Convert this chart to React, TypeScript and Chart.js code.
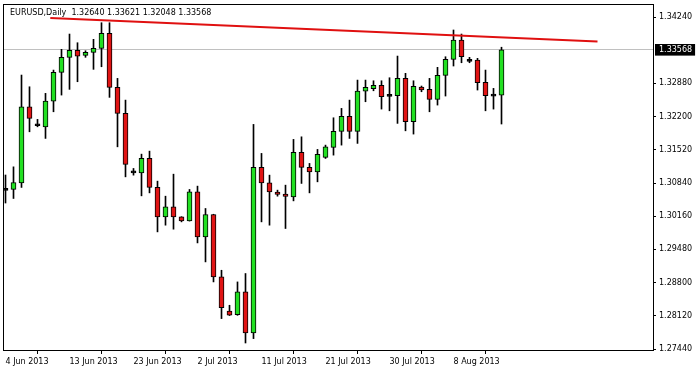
import React, { useEffect, useRef } from 'react';
import { Chart, registerables } from 'chart.js';

Chart.register(...registerables);

const TITLE = 'EURUSD,Daily  1.32640 1.33621 1.32048 1.33568';

const OPEN = [
  1.30700, 1.30708, 1.30843, 1.32401, 1.32012, 1.31991, 1.32518, 1.33106, 1.33414, 1.33557,
  1.33455, 1.33516, 1.33598, 1.33906, 1.32799, 1.32266, 1.31048, 1.31048, 1.31343, 1.30749,
  1.30146, 1.30351, 1.30146, 1.30064, 1.30659, 1.29736, 1.30195, 1.28916, 1.28219, 1.28145,
  1.28609, 1.27768, 1.31159, 1.30843, 1.30652, 1.30612, 1.30556, 1.31466, 1.31159, 1.31069,
  1.31364, 1.31569, 1.31897, 1.32204, 1.31897, 1.32723, 1.32770, 1.32840, 1.32621, 1.32627,
  1.32983, 1.32094, 1.32805, 1.32758, 1.32553, 1.33045, 1.33373, 1.33769, 1.33338, 1.33359,
  1.32901, 1.32627, 1.32640,
];
const HIGH = [
  1.31004, 1.31171, 1.33051, 1.32811, 1.32143, 1.32676, 1.33153, 1.33578, 1.33891, 1.33713,
  1.33549, 1.33783, 1.34123, 1.34123, 1.32983, 1.32538, 1.31138, 1.31431, 1.31493, 1.30878,
  1.30570, 1.31021, 1.30150, 1.30708, 1.30776, 1.30318, 1.30200, 1.29053, 1.28336, 1.28814,
  1.28986, 1.32040, 1.31446, 1.31001, 1.30694, 1.30796, 1.31733, 1.31786, 1.31241, 1.31528,
  1.31616, 1.32176, 1.32368, 1.32538, 1.32948, 1.32948, 1.32934, 1.32934, 1.32996, 1.33440,
  1.33086, 1.32934, 1.32826, 1.32983, 1.33209, 1.33426, 1.33974, 1.33891, 1.33414, 1.33393,
  1.33153, 1.32778, 1.33621,
];
const LOW = [
  1.30430, 1.30523, 1.30749, 1.31889, 1.31991, 1.31753, 1.32299, 1.32641, 1.32758, 1.32914,
  1.33414, 1.33168, 1.33221, 1.32594, 1.31581, 1.30966, 1.31001, 1.30577, 1.30638, 1.29839,
  1.29976, 1.29894, 1.30044, 1.30060, 1.29613, 1.29224, 1.28814, 1.28063, 1.28125, 1.28130,
  1.27563, 1.27653, 1.30044, 1.29976, 1.30570, 1.29908, 1.30474, 1.30831, 1.30638, 1.30864,
  1.31343, 1.31411, 1.31616, 1.31753, 1.31651, 1.32504, 1.32729, 1.32354, 1.32319, 1.32061,
  1.31909, 1.31842, 1.32709, 1.32299, 1.32436, 1.32621, 1.33236, 1.33303, 1.33303, 1.32744,
  1.32319, 1.32354, 1.32048,
];
const CLOSE = [
  1.30690, 1.30851, 1.32401, 1.32163, 1.32016, 1.32518, 1.33106, 1.33414, 1.33557, 1.33440,
  1.33516, 1.33598, 1.33906, 1.32799, 1.32266, 1.31220, 1.31056, 1.31343, 1.30749, 1.30146,
  1.30351, 1.30146, 1.30064, 1.30659, 1.29736, 1.30195, 1.28916, 1.28289, 1.28131, 1.28609,
  1.27768, 1.31159, 1.30843, 1.30659, 1.30605, 1.30565, 1.31466, 1.31159, 1.31069, 1.31425,
  1.31581, 1.31897, 1.32204, 1.31897, 1.32723, 1.32799, 1.32840, 1.32606, 1.32615, 1.32983,
  1.32094, 1.32819, 1.32744, 1.32553, 1.33045, 1.33373, 1.33769, 1.33426, 1.33332, 1.32893,
  1.32627, 1.32620, 1.33568,
];

const X_TICK_BARS = [0, 8, 16, 24, 32, 40, 48, 56];
const X_TICK_LABELS = [
  '4 Jun 2013', '13 Jun 2013', '23 Jun 2013', '2 Jul 2013',
  '11 Jul 2013', '21 Jul 2013', '30 Jul 2013', '8 Aug 2013',
];
const Y_TICKS = [1.3424, 1.3288, 1.322, 1.3152, 1.3084, 1.3016, 1.2948, 1.288, 1.2812, 1.2744];
const CURRENT_PRICE = 1.33568;

const TREND_X = [5.6, 74.0];
const TREND_Y = [1.34220, 1.33740];

const X_MIN = -0.3125;
const X_MAX = 80.9375;
const Y_MIN = 1.273991;
const Y_MAX = 1.345063;

const UP = '#22e022';
const DOWN = '#e01414';
const FONT = { family: '"DejaVu Sans", sans-serif', size: 8 };

const framePlugin = {
  id: 'mtFrame',
  beforeDatasetsDraw(chart: any) {
    const { ctx, chartArea } = chart;
    ctx.save();
    ctx.fillStyle = '#000';
    ctx.font = '8px "DejaVu Sans", sans-serif';
    ctx.textBaseline = 'middle';
    ctx.textAlign = 'left';
    ctx.fillText(TITLE, chartArea.left + 7, chartArea.top + 9);
    ctx.restore();
  },
  afterDraw(chart: any) {
    const { ctx, chartArea } = chart;
    ctx.save();
    ctx.strokeStyle = '#000';
    ctx.lineWidth = 1;
    const l = Math.round(chartArea.left) + 0.5;
    const t = Math.round(chartArea.top) + 0.5;
    const r = Math.round(chartArea.right) + 0.5;
    const b = Math.round(chartArea.bottom) - 0.5;
    ctx.strokeRect(l, t, r - l, b - t);
    ctx.restore();
  },
};

export default function App() {
  const ref = useRef<HTMLCanvasElement | null>(null);

  useEffect(() => {
    if (!ref.current) return;
    const idx = OPEN.map((_, i) => i);
    const isDoji = (i: number) => Math.abs(OPEN[i] - CLOSE[i]) < 0.00012;
    const bodyColors = idx.map((i) => (isDoji(i) ? '#000' : CLOSE[i] >= OPEN[i] ? UP : DOWN));
    const isCur = (ctx: any) => ctx.tick && Math.abs(ctx.tick.value - CURRENT_PRICE) < 1e-9;

    const chart = new Chart(ref.current, {
      type: 'bar',
      data: {
        datasets: [
          {
            type: 'line',
            label: 'trend',
            data: TREND_X.map((x, k) => ({ x, y: TREND_Y[k] })),
            borderColor: '#e01010',
            borderWidth: 2,
            pointRadius: 0,
            tension: 0,
            order: 0,
          } as any,
          {
            type: 'bar',
            label: 'body',
            data: idx.map((i) => ({ x: i, y: [OPEN[i], CLOSE[i]] })),
            backgroundColor: bodyColors,
            borderColor: '#000',
            borderWidth: 1,
            borderSkipped: false,
            barThickness: 5,
            minBarLength: 2,
            grouped: false,
            order: 1,
          } as any,
          {
            type: 'bar',
            label: 'wick',
            data: idx.map((i) => ({ x: i, y: [LOW[i], HIGH[i]] })),
            backgroundColor: '#000',
            borderWidth: 0,
            barThickness: 1,
            grouped: false,
            order: 2,
          } as any,
        ],
      },
      options: {
        responsive: false,
        animation: false,
        devicePixelRatio: 1,
        layout: { padding: { left: 3, top: 4, right: 0, bottom: 0 } },
        plugins: {
          legend: { display: false },
          tooltip: { enabled: false },
          title: { display: false },
        },
        scales: {
          x: {
            type: 'linear',
            min: X_MIN,
            max: X_MAX,
            offset: false,
            afterFit: (s: any) => {
              s.height = 20;
              s.paddingLeft = 0;
              s.paddingRight = 0;
            },
            afterBuildTicks: (s: any) => { s.ticks = X_TICK_BARS.map((v) => ({ value: v })); },
            grid: { drawOnChartArea: false, tickLength: 3, tickColor: '#000' },
            border: { display: false },
            ticks: {
              autoSkip: false,
              maxRotation: 0,
              minRotation: 0,
              align: 'start',
              padding: 3,
              color: '#000',
              font: FONT,
              callback: (_v: any, i: number) => X_TICK_LABELS[i],
            },
          } as any,
          y: {
            type: 'linear',
            position: 'right',
            min: Y_MIN,
            max: Y_MAX,
            afterFit: (s: any) => {
              s.width = 45;
              s.paddingTop = 0;
              s.paddingBottom = 0;
            },
            afterBuildTicks: (s: any) => {
              s.ticks = [Y_TICKS[0], CURRENT_PRICE, ...Y_TICKS.slice(1)].map((v) => ({ value: v }));
            },
            grid: {
              drawOnChartArea: true,
              color: (ctx: any) => (isCur(ctx) ? '#c0c0c0' : 'rgba(0,0,0,0)'),
              tickColor: (ctx: any) => (isCur(ctx) ? 'rgba(0,0,0,0)' : '#000'),
              tickLength: 3,
              lineWidth: 1,
            },
            border: { display: false },
            ticks: {
              autoSkip: false,
              padding: 3,
              font: FONT,
              color: (ctx: any) => (isCur(ctx) ? '#fff' : '#000'),
              showLabelBackdrop: (ctx: any) => isCur(ctx),
              backdropColor: '#000',
              backdropPadding: { top: 1, bottom: 1, left: 4, right: 3 },
              callback: (v: any) => Number(v).toFixed(5),
            },
          } as any,
        },
      } as any,
      plugins: [framePlugin],
    });
    return () => chart.destroy();
  }, []);

  return (
    <div style={{ position: 'absolute', left: 0, top: 0, width: 698, height: 371, background: '#fff' }}>
      <canvas ref={ref} width={698} height={371} />
    </div>
  );
}
